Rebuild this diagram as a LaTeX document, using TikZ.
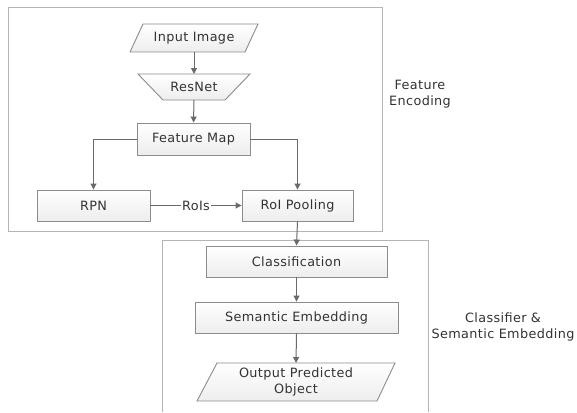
\documentclass[tikz,border=0pt]{standalone}
\usepackage{fontspec}
\setmainfont{DejaVu Sans}[LetterSpace=3]
\usetikzlibrary{shapes.geometric,arrows.meta}
\definecolor{txt}{HTML}{333333}
\definecolor{bord}{HTML}{8C8C8C}
\definecolor{grp}{HTML}{B4B4B4}
\definecolor{arr}{HTML}{6A6A6A}
\tikzset{
  x=1pt,y=-1pt,
  every node/.style={font=\fontsize{12.8}{16}\selectfont,text=txt},
  boxnode/.style={draw=bord,line width=0.9pt,top color=white,bottom color=gray!14,inner sep=0pt,align=center},
  conn/.style={draw=arr,line width=1pt,-{Triangle[length=6pt,width=6pt]}},
  grpbox/.style={draw=grp,line width=1pt},
}
\begin{document}
\begin{tikzpicture}
\useasboundingbox (0,0) rectangle (577,412);
% group boxes
\draw[grpbox] (8,8) rectangle (382,231);
\draw[grpbox] (162,412) -- (162,240) -- (428,240) -- (428,412);
% nodes
\path[boxnode] (143,24) -- (258,24) -- (245,52) -- (130,52) -- cycle;
\node (in) at (194,38) {Input Image};
\path[boxnode] (138,74) -- (250,74) -- (225,100) -- (163,100) -- cycle;
\node (res) at (194,87) {ResNet};
\node[boxnode,minimum width=113pt,minimum height=32pt] (fm) at (193.5,139) {Feature Map};
\node[boxnode,minimum width=113pt,minimum height=31pt] (rpn) at (93.5,205.5) {RPN};
\node[boxnode,minimum width=111pt,minimum height=31pt] (roi) at (297.5,205.5) {RoI Pooling};
\node[boxnode,minimum width=181pt,minimum height=31pt] (cls) at (296.5,261.5) {Classification};
\node[boxnode,minimum width=203pt,minimum height=31pt] (sem) at (296.5,317.5) {Semantic Embedding};
\path[boxnode] (217,363) -- (395,363) -- (377,401) -- (197,401) -- cycle;
\node[align=center] (out) at (296,382) {Output Predicted\\Object};
\coordinate (inb) at (194,52);
\coordinate (rest) at (194,74);
\coordinate (resb) at (194,100);
\coordinate (outt) at (296,363);
\node[align=center] (fe) at (420,94) {Feature\\Encoding};
\node[align=center] (cse) at (503,327) {Classifier \&\\Semantic Embedding};
% connectors
\draw[conn] (inb) -- (rest);
\draw[conn] (resb) -- (fm.north);
\draw[conn] (fm.west) -| (rpn.north);
\draw[conn] (fm.east) -| (roi.north);
\draw[conn] (rpn.east) -- node[fill=white,inner sep=1pt] (rois) {RoIs} (roi.west);
\draw[conn] (roi.south) -- (cls.north);
\draw[conn] (cls.south) -- (sem.north);
\draw[conn] (sem.south) -- (outt);
\end{tikzpicture}
\end{document}
